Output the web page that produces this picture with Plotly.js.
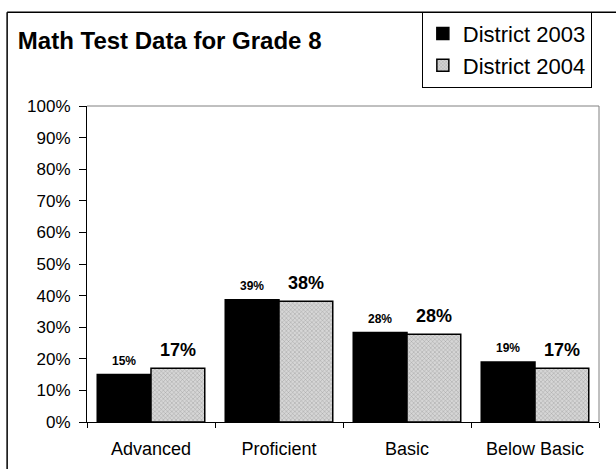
<!DOCTYPE html>
<html>
<head>
<meta charset="utf-8">
<script src="https://cdn.plot.ly/plotly-3.0.1.min.js"></script>
<style>
html,body{margin:0;padding:0;background:#fff;}
#chart{width:616px;height:469px;}
</style>
</head>
<body>
<div id="chart"></div>
<script>
const categories = ["Advanced", "Proficient", "Basic", "Below Basic"];
const seriesNames = ["District 2003", "District 2004"];
const values2003 = [15, 38.7, 28.3, 19];
const values2004 = [17, 38.2, 27.8, 17];
const labels2003 = ["15%", "39%", "28%", "19%"];
const labels2004 = ["17%", "38%", "28%", "17%"];
const yTickVals = [0, 10, 20, 30, 40, 50, 60, 70, 80, 90, 100];
const yTickText = yTickVals.map(v => v + "%");

const FONT = "Liberation Sans, Arial, sans-serif";
const bargap = 0.16;
const half = (1 - bargap) / 4;

const traces = [
  {
    type: "bar", name: seriesNames[0], x: categories, y: values2003,
    marker: {color: "#000000", line: {color: "#000000", width: 1.5}},
    hoverinfo: "skip"
  },
  {
    type: "bar", name: seriesNames[1], x: categories, y: values2004,
    marker: {
      color: "#cfcfcf",
      line: {color: "#000000", width: 1.5},
      pattern: {shape: "x", size: 3, solidity: 0.25, fgcolor: "#9a9a9a", bgcolor: "#d6d6d6"}
    },
    hoverinfo: "skip"
  }
];

const annotations = [];
categories.forEach((c, i) => {
  annotations.push({
    x: i - half, y: values2003[i], xref: "x", yref: "y",
    text: labels2003[i], showarrow: false, yanchor: "bottom", yshift: 5,
    font: {family: FONT, size: 12, color: "#000", weight: "bold"}
  });
  annotations.push({
    x: i + half, y: values2004[i], xref: "x", yref: "y",
    text: labels2004[i], showarrow: false, yanchor: "bottom", yshift: 6,
    font: {family: FONT, size: 18, color: "#000", weight: "bold"}
  });
});

const layout = {
  width: 616, height: 469,
  margin: {l: 87, r: 17, t: 102, b: 47, pad: 0},
  paper_bgcolor: "#ffffff", plot_bgcolor: "#ffffff",
  font: {family: FONT, color: "#000"},
  barmode: "group", bargap: bargap, bargroupgap: 0,
  title: {
    text: "<b>Math Test Data for Grade 8</b>",
    x: 0.029, xanchor: "left", xref: "container",
    y: 0.913, yanchor: "middle", yref: "container",
    font: {family: FONT, size: 24, color: "#000"}
  },
  showlegend: true,
  legend: {
    x: 0.654, xanchor: "left", y: 1.178, yanchor: "middle",
    xref: "paper", yref: "paper",
    bgcolor: "#ffffff", bordercolor: "#000000", borderwidth: 1,
    font: {family: FONT, size: 22, color: "#000"},
    tracegroupgap: 0, itemclick: false
  },
  xaxis: {
    type: "category", showgrid: false, zeroline: false,
    showline: true, linecolor: "#000", linewidth: 1,
    ticks: "outside", ticklen: 5, tickcolor: "#000", tickson: "boundaries",
    ticklabelstandoff: 10,
    tickfont: {family: FONT, size: 18, color: "#000"},
    fixedrange: true
  },
  yaxis: {
    range: [0, 100], tickvals: yTickVals, ticktext: yTickText,
    showgrid: false, zeroline: false,
    showline: true, linecolor: "#000", linewidth: 1,
    ticks: "outside", ticklen: 7, tickcolor: "#000",
    ticklabelstandoff: 5,
    tickfont: {family: FONT, size: 17, color: "#000"},
    fixedrange: true
  },
  annotations: annotations,
  shapes: [
    {type: "line", xref: "paper", yref: "paper", x0: 0, x1: 1, y0: 1, y1: 1, line: {color: "#808080", width: 1}},
    {type: "line", xref: "paper", yref: "paper", x0: 1, x1: 1, y0: 0, y1: 1, line: {color: "#808080", width: 1}},
    {type: "line", xref: "paper", yref: "paper", x0: -0.156, x1: -0.156, y0: -0.2, y1: 1.297, line: {color: "#000", width: 1.5}},
    {type: "line", xref: "paper", yref: "paper", x0: -0.156, x1: 1.1, y0: 1.297, y1: 1.297, line: {color: "#000", width: 1.5}}
  ]
};

Plotly.newPlot("chart", traces, layout, {displayModeBar: false, staticPlot: true});
</script>
</body>
</html>
